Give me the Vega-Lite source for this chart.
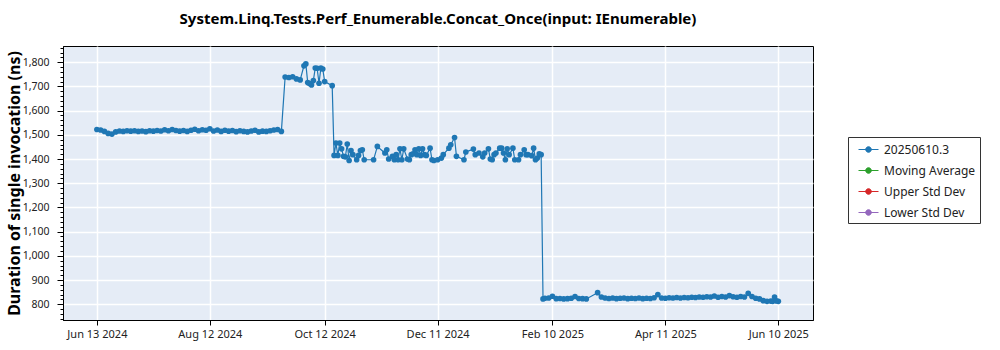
{
  "$schema": "https://vega.github.io/schema/vega-lite/v6.json",
  "autosize": {"type": "none"},
  "padding": {"left": 63, "top": 46, "right": 187, "bottom": 30},
  "width": 750,
  "height": 274,
  "background": "white",
  "title": {
    "text": "System.Linq.Tests.Perf_Enumerable.Concat_Once(input: IEnumerable)",
    "font": "Noto Sans",
    "fontSize": 15,
    "fontWeight": "bold",
    "color": "black",
    "anchor": "middle",
    "offset": 19
  },
  "config": {
    "font": "Noto Sans",
    "view": {"fill": "#e5ecf6", "stroke": "black", "strokeWidth": 1}
  },
  "data": {
    "values": [
      {"date": "2024-06-13", "value": 1522},
      {"date": "2024-06-15", "value": 1520},
      {"date": "2024-06-17", "value": 1514},
      {"date": "2024-06-19", "value": 1506},
      {"date": "2024-06-21", "value": 1503},
      {"date": "2024-06-23", "value": 1512},
      {"date": "2024-06-25", "value": 1516},
      {"date": "2024-06-27", "value": 1514},
      {"date": "2024-06-29", "value": 1517},
      {"date": "2024-07-01", "value": 1515},
      {"date": "2024-07-03", "value": 1517},
      {"date": "2024-07-05", "value": 1514},
      {"date": "2024-07-07", "value": 1516},
      {"date": "2024-07-09", "value": 1513},
      {"date": "2024-07-11", "value": 1517},
      {"date": "2024-07-13", "value": 1515},
      {"date": "2024-07-15", "value": 1518},
      {"date": "2024-07-17", "value": 1516},
      {"date": "2024-07-19", "value": 1521},
      {"date": "2024-07-21", "value": 1517},
      {"date": "2024-07-23", "value": 1522},
      {"date": "2024-07-25", "value": 1518},
      {"date": "2024-07-27", "value": 1515},
      {"date": "2024-07-29", "value": 1518},
      {"date": "2024-07-31", "value": 1514},
      {"date": "2024-08-02", "value": 1519},
      {"date": "2024-08-04", "value": 1523},
      {"date": "2024-08-06", "value": 1517},
      {"date": "2024-08-08", "value": 1521},
      {"date": "2024-08-10", "value": 1519},
      {"date": "2024-08-12", "value": 1525},
      {"date": "2024-08-14", "value": 1516},
      {"date": "2024-08-16", "value": 1520},
      {"date": "2024-08-18", "value": 1514},
      {"date": "2024-08-20", "value": 1519},
      {"date": "2024-08-22", "value": 1515},
      {"date": "2024-08-24", "value": 1518},
      {"date": "2024-08-26", "value": 1513},
      {"date": "2024-08-28", "value": 1517},
      {"date": "2024-08-30", "value": 1514},
      {"date": "2024-09-01", "value": 1512},
      {"date": "2024-09-03", "value": 1516},
      {"date": "2024-09-05", "value": 1519},
      {"date": "2024-09-07", "value": 1512},
      {"date": "2024-09-09", "value": 1515},
      {"date": "2024-09-11", "value": 1514},
      {"date": "2024-09-13", "value": 1517},
      {"date": "2024-09-15", "value": 1520},
      {"date": "2024-09-17", "value": 1522},
      {"date": "2024-09-19", "value": 1514},
      {"date": "2024-09-21", "value": 1739},
      {"date": "2024-09-23", "value": 1737},
      {"date": "2024-09-25", "value": 1740},
      {"date": "2024-09-27", "value": 1731},
      {"date": "2024-09-29", "value": 1727},
      {"date": "2024-10-01", "value": 1785},
      {"date": "2024-10-02", "value": 1793},
      {"date": "2024-10-03", "value": 1716},
      {"date": "2024-10-04", "value": 1712},
      {"date": "2024-10-05", "value": 1706},
      {"date": "2024-10-06", "value": 1724},
      {"date": "2024-10-07", "value": 1776},
      {"date": "2024-10-08", "value": 1775},
      {"date": "2024-10-09", "value": 1713},
      {"date": "2024-10-10", "value": 1776},
      {"date": "2024-10-11", "value": 1772},
      {"date": "2024-10-12", "value": 1720},
      {"date": "2024-10-16", "value": 1703},
      {"date": "2024-10-17", "value": 1415},
      {"date": "2024-10-18", "value": 1466},
      {"date": "2024-10-19", "value": 1415},
      {"date": "2024-10-20", "value": 1466},
      {"date": "2024-10-21", "value": 1442},
      {"date": "2024-10-22", "value": 1411},
      {"date": "2024-10-23", "value": 1409},
      {"date": "2024-10-24", "value": 1462},
      {"date": "2024-10-25", "value": 1394},
      {"date": "2024-10-26", "value": 1435},
      {"date": "2024-10-27", "value": 1418},
      {"date": "2024-10-29", "value": 1397},
      {"date": "2024-10-30", "value": 1415},
      {"date": "2024-10-31", "value": 1435},
      {"date": "2024-11-01", "value": 1438},
      {"date": "2024-11-02", "value": 1397},
      {"date": "2024-11-07", "value": 1397},
      {"date": "2024-11-09", "value": 1452},
      {"date": "2024-11-13", "value": 1425},
      {"date": "2024-11-14", "value": 1438},
      {"date": "2024-11-15", "value": 1400},
      {"date": "2024-11-17", "value": 1411},
      {"date": "2024-11-18", "value": 1397},
      {"date": "2024-11-19", "value": 1418},
      {"date": "2024-11-20", "value": 1397},
      {"date": "2024-11-21", "value": 1442},
      {"date": "2024-11-22", "value": 1397},
      {"date": "2024-11-23", "value": 1442},
      {"date": "2024-11-25", "value": 1400},
      {"date": "2024-11-26", "value": 1397},
      {"date": "2024-11-27", "value": 1418},
      {"date": "2024-11-28", "value": 1422},
      {"date": "2024-11-29", "value": 1438},
      {"date": "2024-11-30", "value": 1418},
      {"date": "2024-12-01", "value": 1442},
      {"date": "2024-12-02", "value": 1415},
      {"date": "2024-12-03", "value": 1442},
      {"date": "2024-12-04", "value": 1418},
      {"date": "2024-12-05", "value": 1415},
      {"date": "2024-12-07", "value": 1445},
      {"date": "2024-12-08", "value": 1397},
      {"date": "2024-12-09", "value": 1394},
      {"date": "2024-12-11", "value": 1397},
      {"date": "2024-12-13", "value": 1404},
      {"date": "2024-12-14", "value": 1418},
      {"date": "2024-12-17", "value": 1445},
      {"date": "2024-12-18", "value": 1459},
      {"date": "2024-12-20", "value": 1489},
      {"date": "2024-12-21", "value": 1411},
      {"date": "2024-12-25", "value": 1397},
      {"date": "2024-12-26", "value": 1429},
      {"date": "2024-12-30", "value": 1441},
      {"date": "2024-12-31", "value": 1418},
      {"date": "2025-01-02", "value": 1425},
      {"date": "2025-01-04", "value": 1409},
      {"date": "2025-01-05", "value": 1425},
      {"date": "2025-01-07", "value": 1442},
      {"date": "2025-01-08", "value": 1400},
      {"date": "2025-01-09", "value": 1397},
      {"date": "2025-01-10", "value": 1418},
      {"date": "2025-01-11", "value": 1425},
      {"date": "2025-01-13", "value": 1445},
      {"date": "2025-01-14", "value": 1445},
      {"date": "2025-01-15", "value": 1425},
      {"date": "2025-01-16", "value": 1397},
      {"date": "2025-01-17", "value": 1442},
      {"date": "2025-01-18", "value": 1418},
      {"date": "2025-01-20", "value": 1445},
      {"date": "2025-01-21", "value": 1397},
      {"date": "2025-01-23", "value": 1397},
      {"date": "2025-01-24", "value": 1418},
      {"date": "2025-01-26", "value": 1438},
      {"date": "2025-01-27", "value": 1418},
      {"date": "2025-01-28", "value": 1418},
      {"date": "2025-01-30", "value": 1414},
      {"date": "2025-01-31", "value": 1445},
      {"date": "2025-02-01", "value": 1397},
      {"date": "2025-02-02", "value": 1404},
      {"date": "2025-02-03", "value": 1422},
      {"date": "2025-02-04", "value": 1418},
      {"date": "2025-02-05", "value": 822},
      {"date": "2025-02-06", "value": 825},
      {"date": "2025-02-08", "value": 826},
      {"date": "2025-02-10", "value": 833},
      {"date": "2025-02-12", "value": 823},
      {"date": "2025-02-14", "value": 824},
      {"date": "2025-02-16", "value": 822},
      {"date": "2025-02-18", "value": 823},
      {"date": "2025-02-20", "value": 825},
      {"date": "2025-02-22", "value": 832},
      {"date": "2025-02-24", "value": 824},
      {"date": "2025-02-26", "value": 823},
      {"date": "2025-02-28", "value": 822},
      {"date": "2025-03-06", "value": 848},
      {"date": "2025-03-08", "value": 830},
      {"date": "2025-03-10", "value": 826},
      {"date": "2025-03-12", "value": 824},
      {"date": "2025-03-14", "value": 826},
      {"date": "2025-03-16", "value": 823},
      {"date": "2025-03-18", "value": 825},
      {"date": "2025-03-20", "value": 826},
      {"date": "2025-03-22", "value": 823},
      {"date": "2025-03-24", "value": 825},
      {"date": "2025-03-26", "value": 824},
      {"date": "2025-03-28", "value": 826},
      {"date": "2025-03-30", "value": 823},
      {"date": "2025-04-01", "value": 825},
      {"date": "2025-04-03", "value": 824},
      {"date": "2025-04-05", "value": 827},
      {"date": "2025-04-07", "value": 840},
      {"date": "2025-04-09", "value": 826},
      {"date": "2025-04-11", "value": 825},
      {"date": "2025-04-13", "value": 827},
      {"date": "2025-04-15", "value": 826},
      {"date": "2025-04-17", "value": 828},
      {"date": "2025-04-19", "value": 826},
      {"date": "2025-04-21", "value": 828},
      {"date": "2025-04-23", "value": 827},
      {"date": "2025-04-25", "value": 829},
      {"date": "2025-04-27", "value": 828},
      {"date": "2025-04-29", "value": 830},
      {"date": "2025-05-01", "value": 829},
      {"date": "2025-05-03", "value": 831},
      {"date": "2025-05-05", "value": 830},
      {"date": "2025-05-07", "value": 834},
      {"date": "2025-05-09", "value": 829},
      {"date": "2025-05-11", "value": 832},
      {"date": "2025-05-13", "value": 830},
      {"date": "2025-05-15", "value": 836},
      {"date": "2025-05-17", "value": 831},
      {"date": "2025-05-19", "value": 829},
      {"date": "2025-05-21", "value": 832},
      {"date": "2025-05-23", "value": 830},
      {"date": "2025-05-25", "value": 845},
      {"date": "2025-05-27", "value": 832},
      {"date": "2025-05-29", "value": 825},
      {"date": "2025-05-31", "value": 822},
      {"date": "2025-06-02", "value": 815},
      {"date": "2025-06-04", "value": 812},
      {"date": "2025-06-06", "value": 813},
      {"date": "2025-06-07", "value": 812},
      {"date": "2025-06-08", "value": 830},
      {"date": "2025-06-09", "value": 814},
      {"date": "2025-06-10", "value": 812}
    ]
  },
  "mark": {
    "type": "line",
    "strokeWidth": 1.2,
    "point": {"filled": true, "size": 32}
  },
  "encoding": {
    "x": {
      "field": "date",
      "type": "temporal",
      "scale": {
        "type": "utc",
        "domain": [
          {"year": 2024, "month": 5, "date": 26, "utc": true},
          {"year": 2025, "month": 6, "date": 28, "hours": 10, "utc": true}
        ]
      },
      "axis": {
        "title": null,
        "values": [
          {"year": 2024, "month": 6, "date": 13, "utc": true},
          {"year": 2024, "month": 8, "date": 12, "utc": true},
          {"year": 2024, "month": 10, "date": 12, "utc": true},
          {"year": 2024, "month": 12, "date": 11, "utc": true},
          {"year": 2025, "month": 2, "date": 10, "utc": true},
          {"year": 2025, "month": 4, "date": 11, "utc": true},
          {"year": 2025, "month": 6, "date": 10, "utc": true}
        ],
        "labelExpr": "utcFormat(datum.value, '%b %d %Y')",
        "labelFontSize": 11,
        "labelColor": "#222",
        "labelPadding": 3,
        "tickSize": 5,
        "tickColor": "black",
        "domainColor": "black",
        "gridColor": "white",
        "gridWidth": 1.5,
        "labelFlush": false
      }
    },
    "y": {
      "field": "value",
      "type": "quantitative",
      "scale": {"domain": [735, 1867], "nice": false, "zero": false},
      "axis": {
        "title": "Duration of single invocation (ns)",
        "titleFontSize": 16,
        "titleFontWeight": "bold",
        "titleColor": "black",
        "titleAngle": -90,
        "titleX": -49,
        "titleY": 137,
        "titleAlign": "center",
        "titleBaseline": "middle",
        "values": [740, 760, 780, 800, 820, 840, 860, 880, 900, 920, 940, 960, 980, 1000, 1020, 1040, 1060, 1080, 1100, 1120, 1140, 1160, 1180, 1200, 1220, 1240, 1260, 1280, 1300, 1320, 1340, 1360, 1380, 1400, 1420, 1440, 1460, 1480, 1500, 1520, 1540, 1560, 1580, 1600, 1620, 1640, 1660, 1680, 1700, 1720, 1740, 1760, 1780, 1800, 1820, 1840, 1860],
        "labelExpr": "datum.value % 100 === 0 ? format(datum.value, ',d') : ''",
        "labelFontSize": 10.5,
        "labelColor": "#222",
        "labelPadding": 8,
        "tickSize": {"condition": {"test": "datum.value % 100 === 0", "value": 6}, "value": 3},
        "tickColor": "black",
        "domainColor": "black",
        "gridColor": "white",
        "gridWidth": 1.5,
        "gridOpacity": {"condition": {"test": "datum.value % 100 === 0", "value": 1}, "value": 0}
      }
    },
    "color": {
      "datum": "20250610.3",
      "type": "nominal",
      "scale": {
        "domain": ["20250610.3", "Moving Average", "Upper Std Dev", "Lower Std Dev"],
        "range": ["#1f77b4", "#2ca02c", "#d62728", "#9467bd"]
      },
      "legend": {
        "title": null,
        "orient": "none",
        "legendX": 785,
        "legendY": 91,
        "fillColor": "white",
        "strokeColor": "#333",
        "padding": 4,
        "symbolType": "M-1.25,0L1.25,0M-0.35,0A0.35,0.35,0,1,0,0.35,0A0.35,0.35,0,1,0,-0.35,0Z",
        "symbolSize": 256,
        "symbolOffset": 8,
        "symbolStrokeWidth": 1,
        "labelOffset": 7,
        "labelFontSize": 12,
        "labelColor": "#222",
        "rowPadding": 6,
        "labelExpr": "datum.label + '    '",
        "encode": {
          "symbols": {
            "update": {
              "fill": {"scale": "color", "field": "value"},
              "stroke": {"scale": "color", "field": "value"},
              "strokeWidth": {"value": 1},
              "opacity": {"value": 1}
            }
          }
        }
      }
    }
  }
}
